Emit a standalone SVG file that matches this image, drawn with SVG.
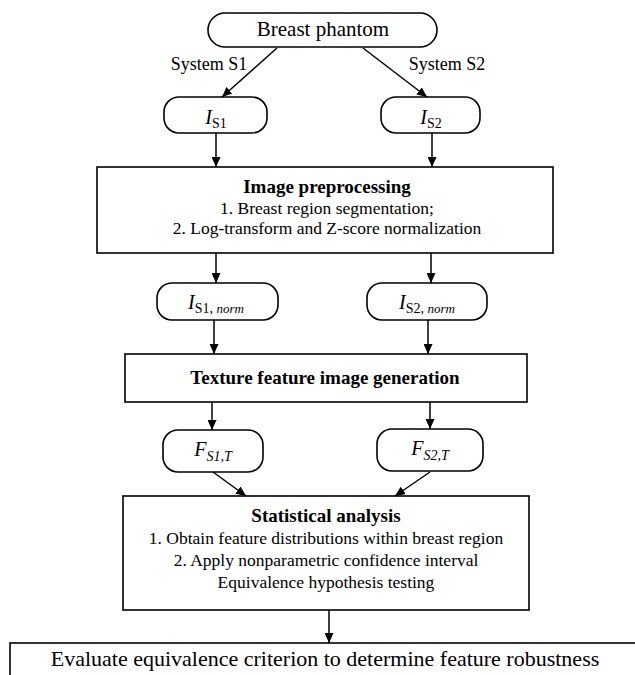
<svg xmlns="http://www.w3.org/2000/svg" width="635" height="675" viewBox="0 0 635 675">
<style>
  .box { fill: #fff; stroke: #000; stroke-width: 1.6; }
  .t { font-family: "Liberation Serif", "Times New Roman", serif; fill: #000; text-anchor: middle; }
  .b { font-weight: bold; font-size: 19px; }
  .r { font-size: 17.5px; }
  .lbl { font-size: 18px; }
  .conn line { stroke: #000; stroke-width: 1.5; marker-end: url(#ah); }
</style>
<defs>
  <marker id="ah" markerUnits="userSpaceOnUse" markerWidth="10" markerHeight="9" refX="10" refY="4.5" orient="auto">
    <path d="M0,0 L10,4.5 L0,9 z" fill="#000"/>
  </marker>
</defs>
<rect width="635" height="675" fill="#fff"/>

<g id="phantom">
  <rect class="box" x="208" y="13" width="229" height="34" rx="17" ry="17"/>
  <text class="t" x="323" y="36" font-size="21">Breast phantom</text>
</g>

<g id="label-s1"><text class="t lbl" x="209" y="70">System S1</text></g>
<g id="label-s2"><text class="t lbl" x="447" y="70">System S2</text></g>

<g id="is1">
  <rect class="box" x="164" y="97" width="103" height="36" rx="15" ry="15"/>
  <text class="t" x="216" y="124" font-size="20"><tspan font-style="italic">I</tspan><tspan font-size="14" dy="4">S1</tspan></text>
</g>
<g id="is2">
  <rect class="box" x="381" y="97" width="99" height="36" rx="15" ry="15"/>
  <text class="t" x="431" y="124" font-size="20"><tspan font-style="italic">I</tspan><tspan font-size="14" dy="4">S2</tspan></text>
</g>

<g id="preprocessing">
  <rect class="box" x="97" y="167" width="456" height="86"/>
  <text class="t b" x="327" y="193">Image preprocessing</text>
  <text class="t r" x="327" y="214">1. Breast region segmentation;</text>
  <text class="t r" x="327" y="234">2. Log-transform and Z-score normalization</text>
</g>

<g id="is1norm">
  <rect class="box" x="157" y="283" width="121" height="37" rx="15" ry="15"/>
  <text class="t" x="216" y="309" font-size="20"><tspan font-style="italic">I</tspan><tspan font-size="14" dy="4">S1, </tspan><tspan font-size="13" font-style="italic">norm</tspan></text>
</g>
<g id="is2norm">
  <rect class="box" x="367" y="283" width="120" height="37" rx="15" ry="15"/>
  <text class="t" x="427" y="309" font-size="20"><tspan font-style="italic">I</tspan><tspan font-size="14" dy="4">S2, </tspan><tspan font-size="13" font-style="italic">norm</tspan></text>
</g>

<g id="texture">
  <rect class="box" x="125" y="354" width="402" height="48"/>
  <text class="t b" x="325" y="384">Texture feature image generation</text>
</g>

<g id="fs1">
  <rect class="box" x="163" y="430" width="100" height="42" rx="15" ry="15"/>
  <text class="t" x="213" y="456" font-size="20" font-style="italic"><tspan>F</tspan><tspan font-size="14" dy="5">S1,T</tspan></text>
</g>
<g id="fs2">
  <rect class="box" x="377" y="429" width="106" height="42" rx="15" ry="15"/>
  <text class="t" x="430" y="455" font-size="20" font-style="italic"><tspan>F</tspan><tspan font-size="14" dy="5">S2,T</tspan></text>
</g>

<g id="statistical">
  <rect class="box" x="123" y="496" width="406" height="114"/>
  <text class="t b" x="326" y="522">Statistical analysis</text>
  <text class="t r" x="326" y="544">1. Obtain feature distributions within breast region</text>
  <text class="t r" x="326" y="566">2. Apply nonparametric confidence interval</text>
  <text class="t r" x="326" y="588">Equivalence hypothesis testing</text>
</g>

<g id="evaluate">
  <rect class="box" x="10" y="643" width="640" height="50"/>
  <text class="t" x="325" y="666" font-size="22">Evaluate equivalence criterion to determine feature robustness</text>
</g>

<g class="conn" id="connectors">
  <line x1="277" y1="48" x2="222" y2="97"/>
  <line x1="363" y1="48" x2="427" y2="97"/>
  <line x1="216" y1="133" x2="216" y2="167"/>
  <line x1="432" y1="133" x2="432" y2="167"/>
  <line x1="216" y1="253" x2="216" y2="283"/>
  <line x1="431" y1="253" x2="431" y2="283"/>
  <line x1="214" y1="320" x2="214" y2="354"/>
  <line x1="428" y1="320" x2="428" y2="354"/>
  <line x1="212" y1="402" x2="212" y2="430"/>
  <line x1="430" y1="402" x2="430" y2="429"/>
  <line x1="213" y1="472" x2="246" y2="496"/>
  <line x1="430" y1="472" x2="395" y2="496"/>
  <line x1="329" y1="610" x2="329" y2="643"/>
</g>
</svg>
